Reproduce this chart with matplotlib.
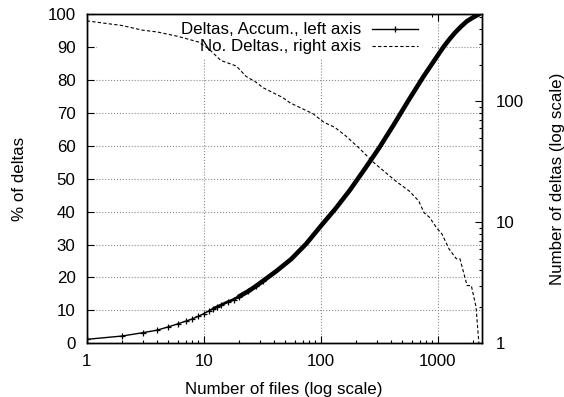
import matplotlib
matplotlib.use("Agg")
import matplotlib.pyplot as plt
from matplotlib import ticker
from matplotlib.lines import Line2D
from matplotlib.patches import Rectangle

plt.rcParams["font.family"] = ["Liberation Sans", "DejaVu Sans"]
plt.rcParams["font.size"] = 12.2

# accumulated % of deltas vs number of files
acc_files = [1, 2, 3, 4, 5, 6, 7, 8, 9, 10, 11, 12, 13, 14, 16, 18, 20, 24,
             28, 32, 42, 56, 75, 100, 133, 178, 237, 316, 422, 562, 750,
             1000, 1122, 1259, 1413, 1585, 1778, 1995, 2138, 2250]
acc_pct = [1.2, 2.2, 3.2, 4.0, 5.0, 5.9, 6.7, 7.4, 8.2, 9.0, 9.8, 10.5, 11.1,
           11.6, 12.6, 13.3, 14.2, 15.8, 17.4, 18.9, 22.0, 25.6, 30.2, 35.6,
           40.8, 46.6, 52.9, 59.4, 66.5, 73.8, 80.9, 87.5, 90.1, 92.4, 94.5,
           96.3, 97.9, 99.0, 99.6, 100.0]

# number of deltas per file, files sorted by count (right axis)
cnt_files = [1, 2, 3, 4, 6, 9, 11, 14, 19, 23, 28, 32, 47, 55, 86, 107, 132,
             163, 208, 286, 436, 577, 688, 765, 851, 979, 1088, 1253, 1442,
             1548, 1782, 1937, 2125, 2248]
cnt_deltas = [463, 424, 388, 375, 345, 310, 273, 218, 196, 161, 144, 130,
              108, 97, 79, 67, 61, 52, 42, 31, 22, 18, 15, 12, 11, 9, 8, 6,
              5, 5, 3, 3, 2, 1]

LEG1 = "Deltas, Accum., left axis"
LEG2 = "No. Deltas., right axis"

fig = plt.figure(figsize=(5.64, 3.97), dpi=100)
ax = fig.add_axes([0.1537, 0.1353, 0.7004, 0.8287])
ax2 = ax.twinx()

ax.set_axisbelow(True)
ax.grid(True, which="major", linestyle=":", color="#8a8a8a", linewidth=0.8)

# key area hides the grid like gnuplot's opaque key
ax.add_patch(Rectangle((0.026, 0.866), 0.847, 0.134, transform=ax.transAxes,
                       facecolor="white", edgecolor="none", zorder=1))

# sparse start with visible + markers, the dense rest drawn as a thick band
sparse = [i for i, f in enumerate(acc_files) if f <= 32]
ax.plot([acc_files[i] for i in sparse], [acc_pct[i] for i in sparse],
        color="black", lw=1.0, marker="+", ms=5, mew=0.9, zorder=3)
mid = [i for i, f in enumerate(acc_files) if 12 <= f <= 24]
ax.plot([acc_files[i] for i in mid], [acc_pct[i] for i in mid],
        color="black", lw=2.0, zorder=3, solid_capstyle="round")
dense = [i for i, f in enumerate(acc_files) if f >= 20]
ax.plot([acc_files[i] for i in dense], [acc_pct[i] for i in dense],
        color="black", lw=3.3, zorder=3, solid_capstyle="round",
        solid_joinstyle="round")

ax2.plot(cnt_files, cnt_deltas, color="black", lw=0.8,
         linestyle=(0, (3, 2)), zorder=3)

ax.set_xscale("log")
ax.set_xlim(1, 2377)
ax.set_ylim(0, 100)
ax.set_yticks(range(0, 101, 10))
ax.set_xticks([1, 10, 100, 1000])
ax.xaxis.set_major_formatter(ticker.FixedFormatter(["1", "10", "100", "1000"]))
ax.xaxis.set_minor_locator(ticker.LogLocator(base=10, subs=range(2, 10)))
ax.xaxis.set_minor_formatter(ticker.NullFormatter())

ax2.set_yscale("log")
ax2.set_ylim(1, 10 ** 2.72)
ax2.set_yticks([1, 10, 100])
ax2.yaxis.set_major_formatter(ticker.FixedFormatter(["1", "10", "100"]))
ax2.yaxis.set_minor_locator(ticker.LogLocator(base=10, subs=range(2, 10)))
ax2.yaxis.set_minor_formatter(ticker.NullFormatter())

ax.tick_params(axis="x", which="both", direction="in", top=True, pad=8)
ax.tick_params(axis="y", which="both", direction="in", right=False, pad=8)
ax.tick_params(which="major", length=5, width=0.8)
ax.tick_params(which="minor", length=2.5, width=0.8)
ax2.tick_params(axis="y", which="major", direction="in", length=5, width=0.8,
                pad=10)
ax2.tick_params(axis="y", which="minor", direction="in", length=2.5,
                width=0.8)

for a in (ax, ax2):
    for s in a.spines.values():
        s.set_linewidth(1.0)

ax.set_xlabel("Number of files (log scale)", labelpad=9)
ax.set_ylabel("% of deltas", labelpad=15)
ax2.set_ylabel("Number of deltas (log scale)", labelpad=19)

# gnuplot-style key: text right-aligned, sample line on its right
tx, x0, x1 = 0.696, 0.7215, 0.8395
for yb, yc, label, kw in [
        (0.940, 0.955, LEG1, dict(lw=1.0, marker="+", ms=5, mew=0.9,
                                  markevery=[1])),
        (0.889, 0.904, LEG2, dict(lw=0.8, linestyle=(0, (3, 2))))]:
    ax.text(tx, yb, label, transform=ax.transAxes, ha="right",
            va="baseline", zorder=5)
    ax.add_line(Line2D([x0, (x0 + x1) / 2, x1], [yc, yc, yc],
                       transform=ax.transAxes, color="black", zorder=5,
                       **kw))

fig.savefig("out.png", dpi=100)
